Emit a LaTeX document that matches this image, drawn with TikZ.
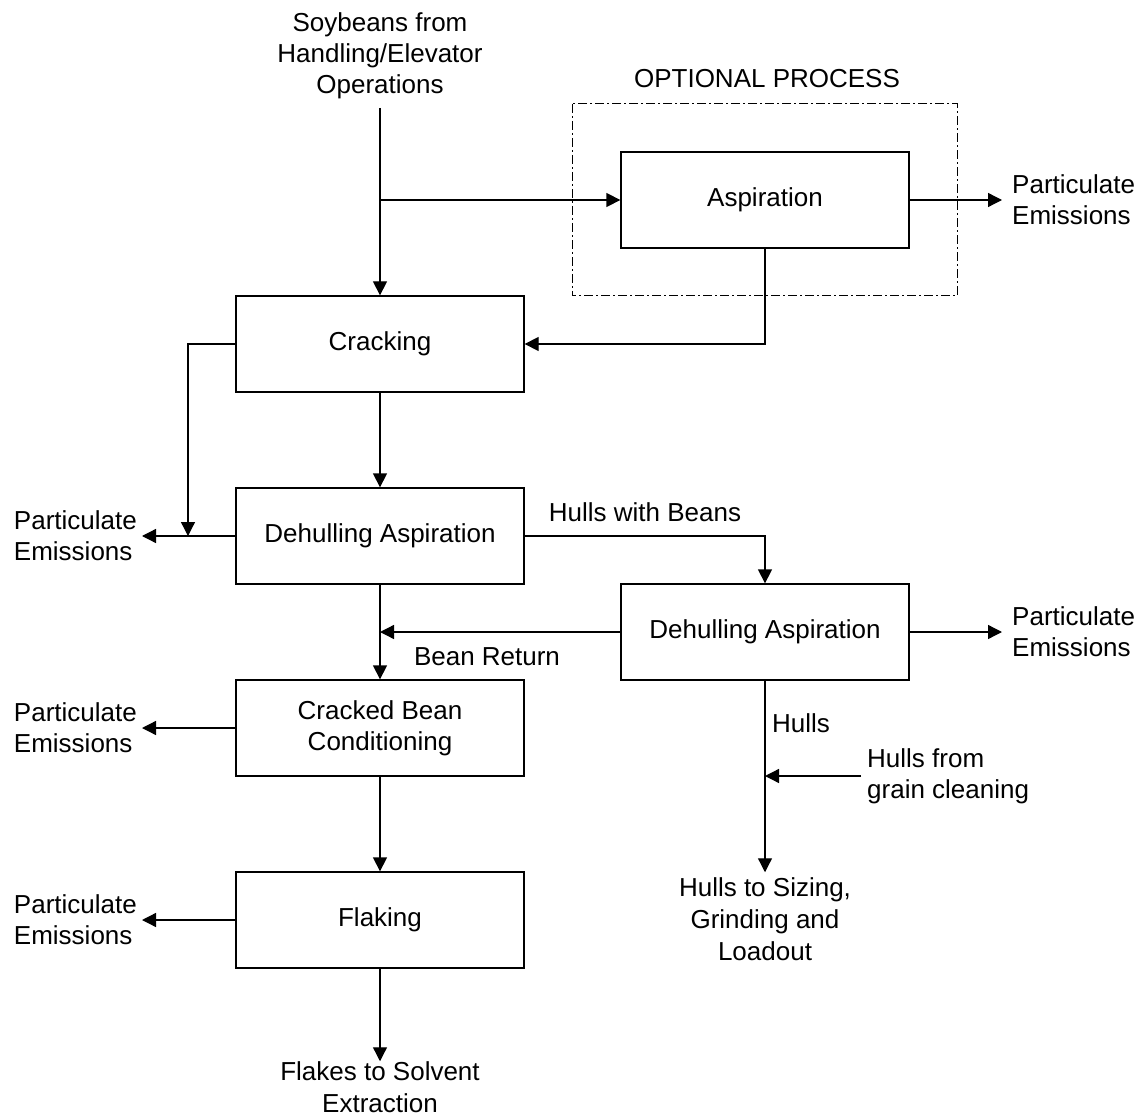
\documentclass[tikz,border=0pt]{standalone}
\usepackage{fontspec}
\setmainfont{Liberation Sans}
\usetikzlibrary{arrows.meta}

\begin{document}
\begin{tikzpicture}[x=1pt,y=-1pt,
  every node/.style={font=\fontsize{26}{31}\selectfont},
  box/.style={draw,line width=1.3pt,minimum width=288pt,minimum height=96pt,
    inner sep=0pt,align=center},
  lbl/.style={inner sep=0pt,align=center},
  emit/.style={inner ysep=0pt,align=left},
  flow/.style={line width=1.3pt,-{Triangle[length=14pt,width=14pt]}},
  optbox/.style={line width=1pt,dash pattern=on 9pt off 3pt on 2pt off 3pt}]

\useasboundingbox (0,0) rectangle (1144,1118);

% process boxes
\node[box] (asp)   at (765,200) {Aspiration};
\node[box] (crack) at (380,344) {Cracking};
\node[box] (dehA)  at (380,536) {Dehulling Aspiration};
\node[box] (dehB)  at (765,632) {Dehulling Aspiration};
\node[box] (cbc)   at (380,728) {Cracked Bean\\Conditioning};
\node[box] (flak)  at (380,920) {Flaking};

% optional process frame
\draw[optbox] (572,104) rectangle (957,296);
\node[lbl] (opt) at (767,79) {OPTIONAL PROCESS};

% inputs and outputs
\node[lbl,inner ysep=8.5pt] (src) at (380,56)
  {Soybeans from\\Handling/Elevator\\Operations};
\node[emit,anchor=west,inner xsep=10pt] (pe1) at (1002,200) {Particulate\\Emissions};
\node[emit,anchor=west,inner xsep=10pt] (pe5) at (1002,632) {Particulate\\Emissions};
\node[emit,anchor=east,inner xsep=5pt] (pe2) at (142,536) {Particulate\\Emissions};
\node[emit,anchor=east,inner xsep=5pt] (pe3) at (142,728) {Particulate\\Emissions};
\node[emit,anchor=east,inner xsep=5pt] (pe4) at (142,920) {Particulate\\Emissions};
\node[emit,anchor=west,inner xsep=6pt] (hgc) at (861,776) {Hulls from\\grain cleaning};
\node[lbl,inner ysep=5pt,font=\fontsize{26}{32}\selectfont] (hts) at (765,919)
  {Hulls to Sizing,\\Grinding and\\Loadout};
\node[lbl,font=\fontsize{26}{32}\selectfont] (flx) at (380,1087)
  {Flakes to Solvent\\Extraction};

% stream labels
\node[lbl] (hwb) at (645,512) {Hulls with Beans};
\node[lbl] (brt) at (487,657) {Bean Return};
\node[lbl,anchor=west] (hul) at (772,723) {Hulls};

% junction points
\coordinate (j1) at (380,200);
\coordinate (j2) at (188,536);
\coordinate (j3) at (380,632);
\coordinate (j4) at (765,776);

% connectors
\draw[flow] (src.south) -- (crack.north);
\draw[flow] (j1) -- (asp.west);
\draw[flow] (asp.east) -- (pe1.west);
\draw[flow] (asp.south) |- (crack.east);
\draw[flow] (crack.south) -- (dehA.north);
\draw[flow] (crack.west) -| (j2);
\draw[flow] (dehA.west) -- (pe2.east);
\draw[flow] (dehA.east) -| (dehB.north);
\draw[flow] (dehB.west) -- (j3);
\draw[flow] (dehB.east) -- (pe5.west);
\draw[flow] (dehA.south) -- (cbc.north);
\draw[flow] (cbc.west) -- (pe3.east);
\draw[flow] (cbc.south) -- (flak.north);
\draw[flow] (flak.west) -- (pe4.east);
\draw[flow] (flak.south) -- (flx.north);
\draw[flow] (dehB.south) -- (hts.north);
\draw[flow] (hgc.west) -- (j4);
\end{tikzpicture}
\end{document}
